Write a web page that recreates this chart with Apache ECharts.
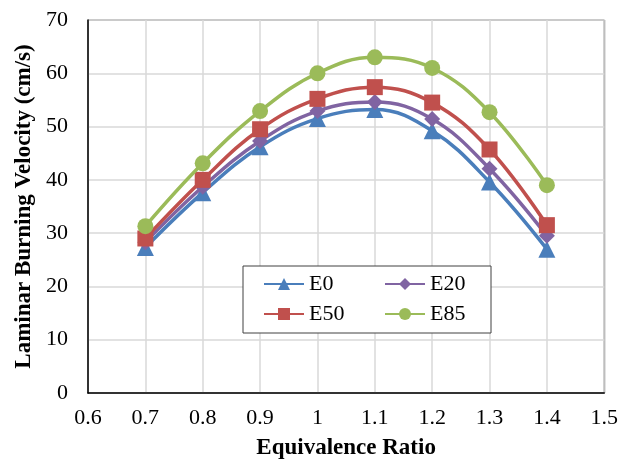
<!DOCTYPE html>
<html>
<head>
<meta charset="utf-8">
<script src="https://cdn.jsdelivr.net/npm/echarts@6/dist/echarts.min.js"></script>
<style>
  html, body { margin: 0; padding: 0; background: #fff; }
  #chart { width: 621px; height: 466px; }
</style>
</head>
<body>
<div id="chart"></div>
<script>
// Equivalence ratios at which burning velocity was measured
const ratios = [0.7, 0.8, 0.9, 1.0, 1.1, 1.2, 1.3, 1.4];

// Laminar burning velocity (cm/s) for each ethanol blend
const e0  = [27.3, 37.6, 46.2, 51.5, 53.2, 49.2, 39.6, 27.0];
const e20 = [28.3, 38.7, 47.3, 52.9, 54.6, 51.4, 42.1, 29.5];
const e50 = [29.0, 40.0, 49.5, 55.2, 57.4, 54.5, 45.7, 31.5];
const e85 = [31.3, 43.1, 52.9, 60.0, 63.0, 61.0, 52.7, 39.0];

const seriesNames = ['E0', 'E20', 'E50', 'E85'];
const seriesValues = [e0, e20, e50, e85];
const seriesColors = ['#4a7ebb', '#8064a2', '#c0504d', '#9bbb59'];
const seriesSymbols = ['triangle', 'diamond', 'rect', 'circle'];
const symbolSizes = [17, 16, 16, 16];

const FONT = '"Liberation Serif", "Times New Roman", serif';

const chart = echarts.init(document.getElementById('chart'), null, { renderer: 'canvas' });

const series = seriesNames.map((name, i) => ({
  name: name,
  type: 'line',
  smooth: 0.4,
  data: ratios.map((x, k) => [x, seriesValues[i][k]]),
  symbol: seriesSymbols[i],
  symbolSize: symbolSizes[i],
  lineStyle: { width: 3.5, color: seriesColors[i] },
  itemStyle: { color: seriesColors[i] },
  emphasis: { disabled: true },
  z: 2 + i
}));

// Two-column legend: left column text slots are wider than the right ones
const legendItems = seriesNames.map((name, i) => ({
  name: name,
  textStyle: { width: i % 2 === 0 ? 67 : 50 }
}));

chart.setOption({
  animation: false,
  backgroundColor: '#ffffff',
  textStyle: { fontFamily: FONT },
  grid: {
    left: 88, right: 13, top: 20, bottom: 73,
    show: true,
    borderColor: '#404040',
    borderWidth: 1
  },
  legend: {
    data: legendItems,
    left: 243,
    top: 266,
    width: 240,
    orient: 'horizontal',
    itemWidth: 40,
    itemHeight: 15,
    itemGap: 8,
    padding: [7, 11, 8, 20],
    backgroundColor: '#ffffff',
    borderColor: '#404040',
    borderWidth: 1,
    borderRadius: 0,
    textStyle: {
      fontFamily: FONT,
      fontSize: 22,
      color: '#000',
      lineHeight: 20
    }
  },
  xAxis: {
    type: 'value',
    min: 0.6,
    max: 1.5,
    interval: 0.1,
    name: 'Equivalence Ratio',
    nameLocation: 'middle',
    nameGap: 44,
    nameTextStyle: { fontFamily: FONT, fontSize: 23, fontWeight: 'bold', color: '#000' },
    axisLine: { show: true, onZero: false, lineStyle: { color: '#000', width: 1.5 } },
    axisTick: { show: false },
    axisLabel: {
      fontFamily: FONT, fontSize: 22, color: '#000', margin: 14,
      formatter: v => String(parseFloat(v.toFixed(1)))
    },
    splitLine: { show: true, lineStyle: { color: '#d9d9d9', width: 1.5 } }
  },
  yAxis: {
    type: 'value',
    min: 0,
    max: 70,
    interval: 10,
    name: 'Laminar Burning Velocity (cm/s)',
    nameLocation: 'middle',
    nameGap: 52,
    nameTextStyle: { fontFamily: FONT, fontSize: 23, fontWeight: 'bold', color: '#000' },
    axisLine: { show: true, lineStyle: { color: '#000', width: 1.5 } },
    axisTick: { show: false },
    axisLabel: { fontFamily: FONT, fontSize: 22, color: '#000', margin: 20 },
    splitLine: { show: true, lineStyle: { color: '#d9d9d9', width: 1.5 } }
  },
  series: series
});
</script>
</body>
</html>
